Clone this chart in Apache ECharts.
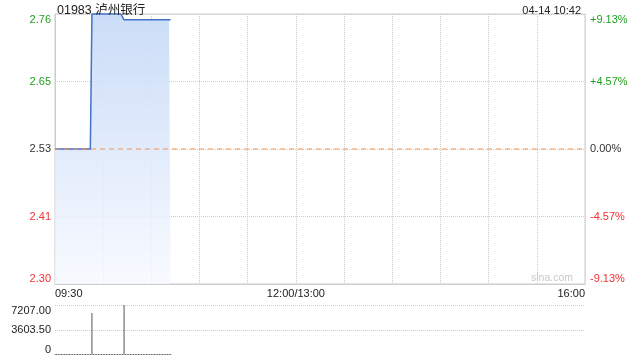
<!DOCTYPE html>
<html>
<head>
<meta charset="utf-8">
<script src="https://cdn.jsdelivr.net/npm/echarts@6/dist/echarts.min.js"></script>
<style>html,body{margin:0;padding:0;background:#fff}#c{width:640px;height:360px}</style>
</head>
<body>
<div id="c"></div>
<script>
var titleText = '01983 泸州银行';
var timeText = '04-14 10:42';
var prevClose = 2.53;
// minute prices 09:30 .. 10:42
var priceValues = [
  2.53,2.53,2.53,2.53,2.53,2.53,2.53,2.53,2.53,2.53,
  2.53,2.53,2.53,2.53,2.53,2.53,2.53,2.53,2.53,2.53,
  2.53,2.53,2.53,2.76,2.76,2.76,2.76,2.76,2.76,2.76,
  2.76,2.76,2.76,2.76,2.76,2.76,2.76,2.76,2.76,2.76,
  2.76,2.76,2.76,2.75,2.75,2.75,2.75,2.75,2.75,2.75,
  2.75,2.75,2.75,2.75,2.75,2.75,2.75,2.75,2.75,2.75,
  2.75,2.75,2.75,2.75,2.75,2.75,2.75,2.75,2.75,2.75,
  2.75,2.75,2.75
];
var volumeValues = [
  0,0,0,0,0,0,0,0,0,0,
  0,0,0,0,0,0,0,0,0,0,
  0,0,0,6050,0,0,0,0,0,0,
  0,0,0,0,0,0,0,0,0,0,
  0,0,0,7207,0,0,0,0,0,0,
  0,0,0,0,0,0,0,0,0,0,
  0,0,0,0,0,0,0,0,0,0,
  0,0,0
];
var leftTickLabels = ['2.30','2.41','2.53','2.65','2.76'];
var rightTickLabels = ['-9.13%','-4.57%','0.00%','+4.57%','+9.13%'];
var volTickLabels = ['0','3603.50','7207.00'];
var xTickLabels = {'09:30':'09:30','12:00':'12:00/13:00','16:00':'16:00'};

// build minute categories (trading session)
function pad(n){return (n<10?'0':'')+n;}
var categories = [];
function addRange(h1,m1,h2,m2){
  for (var t=h1*60+m1; t<=h2*60+m2; t++) categories.push(pad(Math.floor(t/60))+':'+pad(t%60));
}
addRange(9,30,12,0);
addRange(13,1,16,0);

var GREEN = '#1f9f1f', RED = '#f23030', NEUTRAL = '#333';
function tickColor(i){ return i>2 ? GREEN : (i<2 ? RED : NEUTRAL); }

var chart = echarts.init(document.getElementById('c'), null, {renderer:'canvas'});
var fontFam = 'Liberation Sans, Arial, "Noto Sans CJK SC", sans-serif';
var ORANGE = '#f5944f';
var prevCloseLine = categories.map(function(){ return Math.round(prevClose*1000); });
var option = {
  animation: false,
  textStyle: {fontFamily: fontFam},
  title: [
    {text: titleText, left: 52, top: -1, textStyle:{fontSize:12.5, fontWeight:'normal', color:'#222', fontFamily: fontFam}},
    {text: timeText, right: 54, top: 0, textStyle:{fontSize:11, fontWeight:'normal', color:'#222', fontFamily: fontFam}}
  ],
  graphic: [
    {type:'text', right: 67, top: 273, style:{text:'sina.com', fill:'#c8c8c8', font:'10.5px '+fontFam}}
  ],
  grid: [
    {left:55, right:55, top:14, height:270, show:true, borderColor:'#ccc', borderWidth:1},
    {left:55, right:55, top:305, height:50}
  ],
  xAxis: [
    {type:'category', gridIndex:0, data:categories, boundaryGap:false,
     axisLine:{lineStyle:{color:'#ccc'}}, axisTick:{show:false},
     splitLine:{show:true, interval:function(i){return i%30===0;}, lineStyle:{color:'#ccc', type:'dotted'}},
     axisLabel:{interval:function(i,v){return xTickLabels.hasOwnProperty(v);}, formatter:function(v){return xTickLabels[v]||'';},
       color:'#222', fontSize:11, margin:4, alignMinLabel:'left', alignMaxLabel:'right'}},
    {type:'category', gridIndex:1, data:categories, boundaryGap:false, show:false}
  ],
  yAxis: [
    {type:'value', gridIndex:0, min:2300, max:2760, interval:115, position:'left',
     axisLine:{show:true, lineStyle:{color:'#ccc'}}, axisTick:{show:false},
     splitLine:{show:true, lineStyle:{color:'#ccc', type:'dotted'}},
     axisLabel:{formatter:function(v,i){return leftTickLabels[i];}, color:function(v,i){return tickColor(i);}, fontSize:11, margin:4,
       verticalAlignMinLabel:'bottom', verticalAlignMaxLabel:'top'}},
    {type:'value', gridIndex:0, min:2300, max:2760, interval:115, position:'right',
     axisLine:{show:false}, axisTick:{show:false}, splitLine:{show:false},
     axisLabel:{formatter:function(v,i){return rightTickLabels[i];}, color:function(v,i){return tickColor(i);}, fontSize:11, margin:5,
       verticalAlignMinLabel:'bottom', verticalAlignMaxLabel:'top'}},
    {type:'value', gridIndex:1, min:0, max:7207, interval:3603.5,
     axisLine:{show:false}, axisTick:{show:false},
     splitLine:{show:true, showMinLine:false, lineStyle:{color:'#ccc', type:'dotted'}},
     axisLabel:{formatter:function(v,i){return volTickLabels[i];}, color:'#222', fontSize:11, margin:4,
       verticalAlignMinLabel:'bottom', verticalAlignMaxLabel:'top'}}
  ],
  series: [
    {type:'line', xAxisIndex:0, yAxisIndex:0, data: priceValues.map(function(v){return Math.round(v*1000);}),
     showSymbol:false, symbol:'none', clip:false, z:2,
     lineStyle:{color:'#4472c8', width:1.5},
     areaStyle:{origin:'start', opacity:1, color:new echarts.graphic.LinearGradient(0,0,0,1,[{offset:0,color:'rgba(200,219,247,0.95)'},{offset:0.5,color:'rgba(222,233,251,0.9)'},{offset:1,color:'rgba(246,249,255,0.8)'}])}},
    {type:'line', xAxisIndex:0, yAxisIndex:0, data: prevCloseLine, showSymbol:false, symbol:'none', silent:true, z:3,
     lineStyle:{color:ORANGE, type:[5,4], width:1}},
    {type:'bar', xAxisIndex:1, yAxisIndex:2, data: volumeValues, barWidth:1, barMinHeight:1,
     itemStyle:{color:'#555'}}
  ]
};
chart.setOption(option);
</script>
</body>
</html>
